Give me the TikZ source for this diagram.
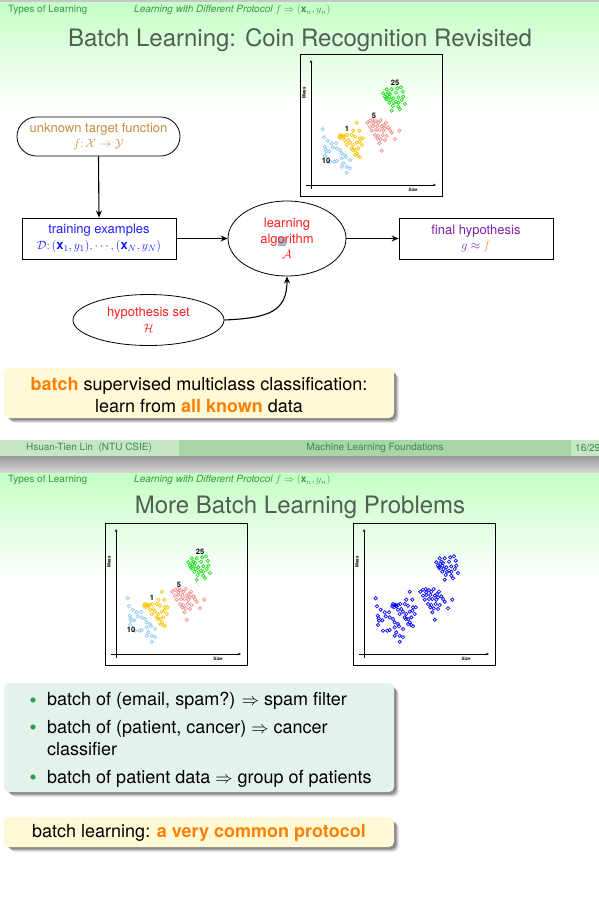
\documentclass[tikz,border=0pt]{standalone}
\usepackage{fontspec}
\setmainfont{TeX Gyre Heros}
\usetikzlibrary{shapes.geometric,shapes.misc,arrows.meta,calc}
\definecolor{bggreen}{RGB}{196,255,196}
\definecolor{hdrgreen}{RGB}{56,150,72}
\definecolor{titlegray}{RGB}{80,94,84}
\definecolor{footmid}{RGB}{168,214,168}
\definecolor{footlight}{RGB}{198,230,198}
\definecolor{foottext}{RGB}{58,140,74}
\definecolor{tgtorange}{RGB}{200,140,64}
\definecolor{trainblue}{RGB}{30,30,255}
\definecolor{algred}{RGB}{255,30,30}
\definecolor{finpurple}{RGB}{128,32,170}
\definecolor{hiorange}{RGB}{255,128,0}
\definecolor{fforange}{RGB}{230,150,50}
\definecolor{yelfill}{RGB}{255,249,214}
\definecolor{mintfill}{RGB}{228,242,236}
\definecolor{dotgreen}{RGB}{40,160,80}
\definecolor{cblue}{RGB}{140,200,240}
\definecolor{cyellow}{RGB}{245,195,0}
\definecolor{cpink}{RGB}{240,140,140}
\definecolor{cgreen}{RGB}{30,225,30}
\definecolor{pblue}{RGB}{0,0,255}
\definecolor{cursorblue}{RGB}{160,185,210}

\tikzset{
  hdr/.style={font=\fontsize{10}{12}\selectfont, text=hdrgreen, inner sep=0pt},
  slidetitle/.style={font=\fontsize{24}{28}\selectfont, text=titlegray, inner sep=0pt},
  foot/.style={font=\fontsize{10}{12}\selectfont, text=foottext, inner sep=0pt},
  flow/.style={font=\fontsize{13}{15.5}\selectfont, align=center, inner sep=1pt},
  boxframe/.style={draw, line width=0.8pt},
  arr/.style={-{Stealth[length=7pt,width=6pt]}, line width=1.1pt},
  axarrow/.style={-{Stealth[length=3pt,width=2.5pt]}, line width=0.5pt},
  axlabel/.style={font=\bfseries\fontsize{4.5}{5}\selectfont, inner sep=0pt},
  clabel/.style={font=\bfseries\fontsize{7.5}{8}\selectfont, inner sep=0pt},
  body/.style={font=\fontsize{18}{22}\selectfont, inner sep=0pt},
  shadowlayer/.style={fill=black, rounded corners=5pt},
  blockfill/.style={rounded corners=5pt, inner sep=0pt},
  coin/.style={line width=0.65pt}
}

\newcommand\bluepts{22.7/75.3,24/83.3,27.7/86.7,24.7/92.7,25.7/95.3,31.7/89.3,32.7/93.3,36/89.3,36.7/94.3,25/102,29.3/97.3,34.3/107.7,36.7/107,41.7/99.3,41.7/104.3,46/103.3,50/106,43.3/109.3,41.7/112.7,46.7/112.7,50/114.3,46.7/118.7,30/107.7,26/97.7,40/96,45/101}
\newcommand\yellowpts{40/81,41.7/82,43.3/83.3,39.3/83.3,41/84.3,45/82,47.3/81,51.7/81,55/82.7,60/84.3,62.7/84.3,53.3/76.7,59.3/76.7,56.7/68.7,48.3/86,50/88.7,53.3/91,56.7/88.7,59.3/87.7,51.7/94.3,55/96,58.3/94.3,56.7/99.3,58.3/102,60/103.3,55/101,52.7/96,46.7/91,45/86.7,61.7/91,42.7/82}
\newcommand\pinkpts{67.3/68.7,70/66.7,72.7/66,76/67,78.3/68.7,80.7/66,86/68.7,70/72.7,73.3/72,77.3/72,81.7/72.7,85/74.3,71.7/76.7,76/76,79.3/76,83.3/76.7,90/76,99.3/76.7,91.7/78.7,75/81,78.3/82,82.7/81,86.7/82,77.3/84.3,80.7/85.3,85/86,79.3/89.3,95/85.3,81.7/96.7,73.3/69.3,84/71,88.3/73.3}
\newcommand\greenpts{86.7/35.3,91.7/35.3,97.3/34.3,101/33.3,83.3/39.3,88.3/38.7,96/38.7,102.7/37.7,85/42.7,89.3/42.7,86.7/45.3,90.7/46,93.3/44.3,98.3/43.3,103.3/42.7,89.3/48.7,94/48.7,98.3/48.7,105/50,92.7/52,98.3/52.7,91.7/56.7,100/55.3,87.3/41,90/40,86/44.3,96/47.7,101.7/46}

\newcommand\coinplot[8]{%
  \begin{scope}[shift={(#1,#2)}]
    \draw[line width=0.8pt] (0,0) rectangle (142,142);
    \draw[axarrow] (11,135) -- (11,6);
    \draw[axarrow] (6,131) -- (136,131);
    \node[axlabel, rotate=90] (#3mass) at (4,39) {Mass};
    \node[axlabel] (#3size) at (113,136) {Size};
    \foreach \a/\b in \bluepts {\draw[coin, #4] (\a,\b) circle[radius=1.7pt];}
    \foreach \a/\b in \yellowpts {\draw[coin, #5] (\a,\b) circle[radius=1.7pt];}
    \foreach \a/\b in \pinkpts {\draw[coin, #6] (\a,\b) circle[radius=1.7pt];}
    \foreach \a/\b in \greenpts {\draw[coin, #7] (\a,\b) circle[radius=1.7pt];}
    #8
  \end{scope}}

\newcommand\coinlabels[1]{%
  \node[clabel] (#1l25) at (95,29) {25};
  \node[clabel] (#1l5) at (74,62) {5};
  \node[clabel] (#1l1) at (47,75) {1};
  \node[clabel] (#1l10) at (26,107) {10};}

\newcommand\blockshadow[4]{%
  \foreach \o/\op in {6/0.08,5/0.12,4/0.16,3/0.2}{%
    \fill[shadowlayer, opacity=\op] (#1+\o,#2+\o) rectangle (#3+\o-1,#4+\o-1);}}

\begin{document}
\begin{tikzpicture}[x=1pt,y=-1pt]
\useasboundingbox (0,0) rectangle (599,898);
% ---------- backgrounds
\fill[white] (0,0) rectangle (599,898);
\shade[top color=bggreen, bottom color=white] (0,0) rectangle (599,110);
\fill[gray!45] (0,0) rectangle (599,2);
\fill[footmid] (0,440) rectangle (599,456);
\fill[footlight] (0,440) rectangle (179,456);
\fill[footlight] (571,440) rectangle (599,456);
\shade[top color=gray!80, bottom color=gray!30] (0,456) rectangle (599,473);
\shade[top color=bggreen, bottom color=white] (0,473) rectangle (599,580);

% ---------- slide 1
\node[hdr, anchor=west] (h1a) at (8,10) {Types of Learning};
\node[hdr, anchor=west] (h1b) at (134,10) {\itshape Learning with Different Protocol $f \Rightarrow (\mathbf{x}_n, y_n)$};
\node[slidetitle] (t1) at (300,40) {Batch Learning: Coin Recognition Revisited};

\coinplot{300}{54}{pa}{cblue}{cyellow}{cpink}{cgreen}{\coinlabels{pa}}

\fill[cursorblue] (278,237) rectangle (286,246);

\node[flow, rounded rectangle, boxframe, minimum width=165pt, minimum height=39pt, text=tgtorange] (target) at (98.5,136.5)
  {unknown target function\\ $f\colon \mathcal{X}\rightarrow\mathcal{Y}$};
\node[flow, rectangle, boxframe, minimum width=154pt, minimum height=41pt, text=trainblue] (train) at (99,238.5)
  {training examples\\ $\mathcal{D}\colon(\mathbf{x}_1,y_1),\cdots,(\mathbf{x}_N,y_N)$};
\node[flow, ellipse, boxframe, minimum width=118pt, minimum height=75pt, inner sep=0pt, text=algred] (alg) at (287,238.5)
  {learning\\ algorithm\\ $\mathcal{A}$};
\node[flow, rectangle, boxframe, minimum width=154pt, minimum height=41pt, text=finpurple] (final) at (476,238.5)
  {final hypothesis\\ $g \approx {\color{fforange}f}$};
\node[flow, ellipse, boxframe, minimum width=151pt, minimum height=51pt, inner sep=0pt, text=algred] (hyp) at (148.5,320)
  {hypothesis set\\ $\mathcal{H}$};

\draw[arr] (target.south) -- (train.north);
\draw[arr] (train.east) -- (alg.west);
\draw[arr] (alg.east) -- (final.west);
\draw[arr] (hyp.east) .. controls ($(hyp.east)+(45,-2)$) and ($(alg.south)+(0,35)$) .. (alg.south);

\blockshadow{4}{368}{394}{418}
\node[blockfill, fill=yelfill, minimum width=390pt, minimum height=50pt] (box1) at (199,393) {};
\node[body, align=center] (box1txt) at (199,395)
  {{\bfseries\color{hiorange}batch} supervised multiclass classification:\\ learn from {\bfseries\color{hiorange}all known} data};

\node[foot] (f1) at (89,448) {Hsuan-Tien Lin\ \ (NTU CSIE)};
\node[foot] (f2) at (375,448) {Machine Learning Foundations};
\node[foot, anchor=west] (f3) at (575,448) {16/29};

% ---------- slide 2
\node[hdr, anchor=west] (h2a) at (8,480) {Types of Learning};
\node[hdr, anchor=west] (h2b) at (134,480) {\itshape Learning with Different Protocol $f \Rightarrow (\mathbf{x}_n, y_n)$};
\node[slidetitle] (t2) at (300,507) {More Batch Learning Problems};

\coinplot{105}{523}{pb}{cblue}{cyellow}{cpink}{cgreen}{\coinlabels{pb}}
\coinplot{353}{523}{pc}{pblue}{pblue}{pblue}{pblue}{}

\blockshadow{4}{683}{394}{792}
\node[blockfill, fill=mintfill, minimum width=390pt, minimum height=109pt] (box2) at (199,737.5) {};
\fill[dotgreen] (33,700) circle[radius=2.6pt];
\fill[dotgreen] (33,727) circle[radius=2.6pt];
\fill[dotgreen] (33,777) circle[radius=2.6pt];
\node[body, anchor=base west] (b1) at (47,705) {batch of (email, spam?) $\Rightarrow$ spam filter};
\node[body, anchor=base west] (b2) at (47,733) {batch of (patient, cancer) $\Rightarrow$ cancer};
\node[body, anchor=base west] (b2b) at (47,755) {classifier};
\node[body, anchor=base west] (b3) at (47,783) {batch of patient data $\Rightarrow$ group of patients};

\blockshadow{4}{817}{394}{847}
\node[blockfill, fill=yelfill, minimum width=390pt, minimum height=30pt] (box3) at (199,832) {};
\node[body, anchor=base] (box3txt) at (199,837) {batch learning: {\bfseries\color{hiorange}a very common protocol}};
\end{tikzpicture}
\end{document}
